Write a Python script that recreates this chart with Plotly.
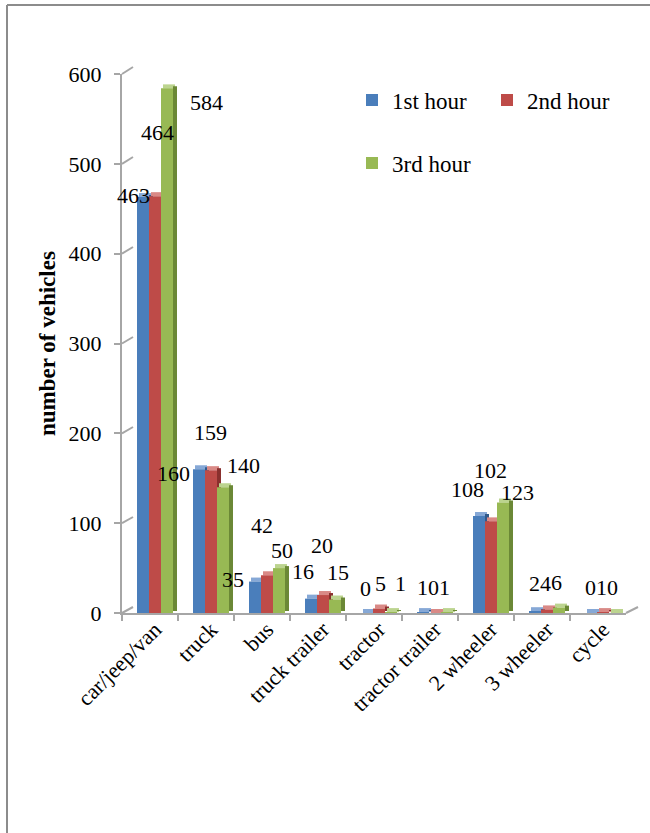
import plotly.graph_objects as go

# ---- data ----
categories = ["car/jeep/van", "truck", "bus", "truck trailer", "tractor",
              "tractor trailer", "2 wheeler", "3 wheeler", "cycle"]
first_hour = [463, 160, 35, 16, 0, 1, 108, 2, 0]
second_hour = [464, 159, 42, 20, 5, 0, 102, 4, 1]
third_hour = [584, 140, 50, 15, 1, 1, 123, 6, 0]
y_ticks = [0, 100, 200, 300, 400, 500, 600]

series_names = ["1st hour", "2nd hour", "3rd hour"]
series_values = [first_hour, second_hour, third_hour]

# value-label placement (pixel nudges from each bar's value point)
label_dx = [
    [-17, -33, -29, -15, -9, -8, -19, -8, -8],
    [7, 4, 0, 4, 6, 3, 4, 3, 3],
    [56, 37, 20, 20, 26, 14, 31, 14, 14],
]
label_dy = [
    [2, -4, 2, 27, 25, 25, 26, 28, 26],
    [64, 38, 50, 50, 25, 26, 51, 26, 25],
    [-14, 22, 18, 27, 29, 25, 10, 25, 26],
]

# ---- styling ----
W, H = 650, 833
FONT = "Liberation Serif"
front_col = ["#4A7EBB", "#BE4B48", "#98B954"]
side_col = ["#31598A", "#8A302E", "#6B8836"]
top_col = ["#86A8D6", "#D98986", "#BCD48F"]
axis_grey = "#A6A6A6"
grid_grey = "#8E8E8E"


def pxx(x):
    return x / W


def pxy(y):
    return 1 - y / H


# front plane (bars, axes) and back wall (grid) in pixels
FX0, FX1, FY0, FY1 = 122, 626, 613, 74
DX, DY = 11, 6
BX0, BX1, BY0, BY1 = FX0 + DX, FX1 + 12, FY0 - DY, FY1 - 7

cat_px = (FX1 - FX0) / len(categories)          # pixels per category
unit_px = (FY0 - FY1) / (y_ticks[-1] - y_ticks[0])  # pixels per vehicle
bar_w = 12 / cat_px
bar_off = [-13 / cat_px, -1 / cat_px, 11 / cat_px]
depth_px = 4
depth_u = depth_px / unit_px

fig = go.Figure()

for i, (name, vals) in enumerate(zip(series_names, series_values)):
    # top face
    fig.add_trace(go.Bar(
        x=categories, y=[depth_u] * len(vals), base=vals,
        offset=bar_off[i] + 2 / cat_px, width=bar_w,
        marker=dict(color=top_col[i], line=dict(width=0)),
        xaxis="x2", yaxis="y2", showlegend=False, hoverinfo="skip"))
    # side face
    fig.add_trace(go.Bar(
        x=categories, y=vals, base=[depth_u / 2] * len(vals),
        offset=bar_off[i] + bar_w, width=depth_px / cat_px,
        marker=dict(color=side_col[i], line=dict(width=0)),
        xaxis="x2", yaxis="y2", showlegend=False, hoverinfo="skip"))
    # front face
    fig.add_trace(go.Bar(
        x=categories, y=vals, name=name,
        offset=bar_off[i], width=bar_w,
        marker=dict(color=front_col[i], line=dict(width=0)),
        xaxis="x2", yaxis="y2",
        legend="legend" if i < 2 else "legend2"))

# value labels
annotations = []
for i, vals in enumerate(series_values):
    for j, v in enumerate(vals):
        annotations.append(dict(
            x=j, y=v, xref="x2", yref="y2", text=str(v), showarrow=False,
            xshift=label_dx[i][j], yshift=label_dy[i][j],
            font=dict(family=FONT, size=22, color="black")))

annotations.append(dict(
    x=pxx(47), y=pxy(344), xref="paper", yref="paper",
    xanchor="center", yanchor="middle",
    text="<b>number of vehicles</b>", textangle=-90, showarrow=False,
    font=dict(family=FONT, size=23, color="black")))

# frame, side wall diagonals, floor edge
shapes = [
    dict(type="line", xref="paper", yref="paper",
         x0=pxx(7), y0=pxy(5), x1=pxx(7), y1=pxy(H + 5),
         line=dict(color="#8C8C8C", width=2)),
    dict(type="line", xref="paper", yref="paper",
         x0=pxx(7), y0=pxy(5), x1=pxx(W + 5), y1=pxy(5),
         line=dict(color="#8C8C8C", width=2)),
    dict(type="line", xref="paper", yref="paper",
         x0=pxx(FX1), y0=pxy(FY0), x1=pxx(BX1), y1=pxy(BY0),
         line=dict(color=axis_grey, width=2)),
]
for t in y_ticks:
    yf = FY0 - (t - y_ticks[0]) * unit_px
    yb = BY0 - (t - y_ticks[0]) * (BY0 - BY1) / (y_ticks[-1] - y_ticks[0])
    shapes.append(dict(type="line", xref="paper", yref="paper",
                       x0=pxx(FX0), y0=pxy(yf), x1=pxx(BX0), y1=pxy(yb),
                       line=dict(color=axis_grey, width=2)))

fig.update_layout(
    width=W, height=H, autosize=False,
    margin=dict(l=0, r=0, t=0, b=0),
    paper_bgcolor="white", plot_bgcolor="rgba(0,0,0,0)",
    barmode="overlay",
    font=dict(family=FONT, color="black"),
    # back wall: gridlines only
    xaxis=dict(domain=[pxx(BX0), pxx(BX1)], anchor="y", range=[0, 1],
               showgrid=False, zeroline=False, showticklabels=False,
               ticks="", showline=False, fixedrange=True),
    yaxis=dict(domain=[pxy(BY0), pxy(BY1)], anchor="x",
               range=[y_ticks[0], y_ticks[-1]], tickvals=y_ticks,
               showgrid=True, gridcolor=grid_grey, gridwidth=2,
               zeroline=False, showticklabels=False, ticks="",
               showline=False, fixedrange=True),
    # front plane: bars and labelled axes
    xaxis2=dict(domain=[pxx(FX0), pxx(FX1)], anchor="y2", type="category",
                range=[-0.5, len(categories) - 0.5],
                showgrid=False, zeroline=False, showline=True,
                linecolor=axis_grey, linewidth=2,
                ticks="outside", tickson="boundaries", ticklen=6,
                tickcolor=axis_grey, tickwidth=2, tickangle=-45,
                ticklabelstandoff=-7, ticklabelshift=5,
                tickfont=dict(family=FONT, size=22, color="black"),
                automargin=False),
    yaxis2=dict(domain=[pxy(FY0), pxy(FY1)], anchor="x2",
                range=[y_ticks[0], y_ticks[-1]], tickvals=y_ticks,
                showgrid=False, zeroline=False, showline=True,
                linecolor=axis_grey, linewidth=2,
                ticks="outside", ticklen=6, tickcolor=axis_grey, tickwidth=2,
                ticklabelstandoff=8,
                tickfont=dict(family=FONT, size=22, color="black"),
                automargin=False),
    legend=dict(orientation="h", x=pxx(352), y=pxy(100),
                xanchor="left", yanchor="middle", entrywidth=90,
                bgcolor="rgba(0,0,0,0)",
                font=dict(family=FONT, size=23, color="black")),
    legend2=dict(orientation="h", x=pxx(352), y=pxy(163),
                 xanchor="left", yanchor="middle",
                 bgcolor="rgba(0,0,0,0)",
                 font=dict(family=FONT, size=23, color="black")),
    annotations=annotations,
    shapes=shapes,
)

fig.write_html("out.html")
